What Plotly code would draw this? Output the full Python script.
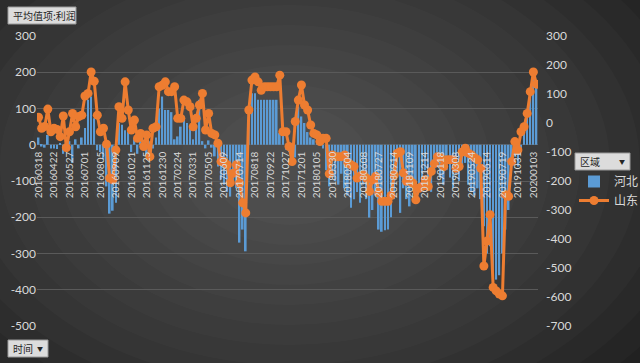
import plotly.graph_objects as go

# ---------------- data ----------------
tick_labels = ["20160318", "20160422", "20160527", "20160701", "20160805", "20160909",
               "20161021", "20161125", "20161230", "20170224", "20170331", "20170505",
               "20170609", "20170714", "20170818", "20170922", "20171027", "20171201",
               "20180105", "20180330", "20180504", "20180608", "20180727", "20180914",
               "20181109", "20181214", "20190118", "20190308", "20190524", "20190614",
               "20190719", "20191031", "20200103"]

hebei = [20, -5, -8, 27, -10, -10, -12, 5, -25, 8,
         10, -50, 15, -10, 20, 46, 124, 133, 73, -15,
         -20, -40, -115, -190, -182, -160, 60, 55, 40, 35,
         -20, 15, -25, 20, -15, -30, 10, -10, 20, 100,
         133, 96, 96, 90, 15, 23, 50, 78, 60, 50,
         15, 55, 124, 10, -10, 12, -8, -32, -60, -96,
         -110, -130, -143, -100, -120, -270, -234, -294, 60, 142,
         142, 124, 124, 124, 124, 124, 124, 124, 32, 30,
         -14, -20, -30, -35, 105, 78, 60, 35, 20, 15,
         22, 18, -10, -70, -115, -90, -100, -110, -80, -120,
         -140, -174, -150, -130, -160, -110, -150, -201, -180, -140,
         -234, -240, -236, -234, -200, -150, -90, -188, -120, -150,
         -170, -100, -160, -120, -90, -70, -110, -130, -80, -60,
         -90, -110, -70, -90, -120, -80, -100, -60, -50, -110,
         -130, -140, -120, -150, -225, -300, -280, -353, -372, -360,
         -300, -234, -180, -40, -33, -60, -20, 50, 90, 146,
         190, 157]

shandong = [20, -18, -12, 48, -30, -18, -22, -47, 24, -85,
            -30, 33, -13, 22, 27, 93, 102, 176, 144, 27,
            -30, -18, -73, -190, -196, -93, 56, 16, 142, 45,
            -24, 10, -53, -36, -81, -41, -116, -18, -13, 125,
            130, 142, 108, 108, 125, 16, 16, 79, 73, 56,
            -13, 16, 62, 102, -24, 33, -36, -41, -70, -133,
            -133, -144, -206, -173, -144, -207, -275, -310, 45, 148,
            159, 142, 113, 125, 125, 125, 125, 125, 165, -30,
            -30, -81, -133, 5, 79, 131, 62, 45, -7, -36,
            -41, -64, -53, -53, -175, -110, -116, -116, -116, -110,
            -138, -144, -150, -190, -183, -179, -190, -236, -196, -184,
            -241, -270, -270, -270, -250, -179, -104, -99, -172, -201,
            -196, -207, -265, -225, -219, -196, -219, -167, -140, -116,
            -120, -150, -127, -127, -127, -156, -150, -100, -87, -104,
            -110, -120, -127, -156, -493, -407, -316, -567, -579, -590,
            -596, -247, -253, -133, -64, -93, -30, -13, 33, 108,
            176, 134]

left_ticks = [300, 200, 100, 0, -100, -200, -300, -400, -500]
right_ticks = [300, 200, 100, 0, -100, -200, -300, -400, -500, -600, -700]

# ---------------- layout helpers ----------------
W, H = 640, 363
ML, MR, MT, MB = 37, 102, 36, 37
PW, PH = W - ML - MR, H - MT - MB


def fx(px):
    return (px - ML) / PW


def fy(py):
    return (H - MB - py) / PH


n = len(hebei)
idx = list(range(n))

fig = go.Figure()
fig.add_trace(go.Bar(
    x=idx, y=hebei, name="河北", yaxis="y",
    marker=dict(color="#5b9bd5", line=dict(width=0)),
))
fig.add_trace(go.Scatter(
    x=idx, y=shandong, name="山东", yaxis="y2", mode="lines+markers",
    line=dict(color="#ed7d31", width=3),
    marker=dict(size=9, color="#ed7d31"),
))

FONT = "Lato, 'Noto Sans CJK SC', sans-serif"
TXT = "#d9d9d9"

# radial-like background glow
shapes = []
cx, cy = 290, 165
steps = 14
for k in range(steps):
    rx = 470 - k * 30
    ry = 320 - k * 20
    shapes.append(dict(
        type="circle", xref="paper", yref="paper", layer="below",
        x0=fx(cx - rx), x1=fx(cx + rx), y0=fy(cy + ry), y1=fy(cy - ry),
        fillcolor="rgba(255,255,255,0.018)", line=dict(width=0),
    ))

annotations = []


def button(x0, y0, x1, y1, text, arrow):
    shapes.append(dict(
        type="rect", xref="paper", yref="paper", layer="above",
        x0=fx(x0), x1=fx(x1), y0=fy(y1), y1=fy(y0),
        fillcolor="#dcdcdc", line=dict(color="#9a9a9a", width=1),
    ))
    annotations.append(dict(
        xref="paper", yref="paper", x=fx(x0 + 3), y=fy((y0 + y1) / 2),
        xanchor="left", yanchor="middle", text=text, showarrow=False,
        font=dict(family="'Noto Sans CJK SC', sans-serif", size=10, color="#262626"),
    ))
    if arrow:
        annotations.append(dict(
            xref="paper", yref="paper", x=fx(x1 - 8), y=fy((y0 + y1) / 2),
            xanchor="center", yanchor="middle", text="▼", showarrow=False,
            font=dict(size=6, color="#262626"),
        ))


button(8, 7, 76, 24, "平均值项:利润", False)
button(8, 340, 48, 357, "时间", True)
button(575, 153, 630, 170, "区域", True)

fig.update_layout(
    width=W, height=H,
    margin=dict(l=ML, r=MR, t=MT, b=MB, pad=0, autoexpand=False),
    paper_bgcolor="#1d1d1d",
    plot_bgcolor="rgba(0,0,0,0)",
    font=dict(family=FONT, color=TXT, size=12),
    bargap=0.45,
    showlegend=True,
    legend=dict(
        x=fx(574), y=fy(167), xanchor="left", yanchor="top",
        bgcolor="rgba(0,0,0,0)", font=dict(size=12, color=TXT, family=FONT),
        itemwidth=30, tracegroupgap=0,
    ),
    xaxis=dict(
        range=[-0.5, n - 0.5], tickvals=idx[::5], ticktext=tick_labels,
        tickangle=-90, anchor="free", position=500 / 800,
        showgrid=False, zeroline=False, showline=False, ticks="",
        ticklabelstandoff=4,
        tickfont=dict(size=10, color=TXT, family=FONT), automargin=False,
    ),
    yaxis=dict(
        range=[-500, 300], tickvals=left_ticks, ticktext=[str(v) for v in left_ticks],
        showgrid=True, gridcolor="#5a5a5a", gridwidth=1, zeroline=False,
        showline=False, ticks="", tickfont=dict(size=12, color=TXT, family=FONT),
        automargin=False,
    ),
    yaxis2=dict(
        range=[-700, 300], tickvals=right_ticks, ticktext=[str(v) for v in right_ticks],
        overlaying="y", side="right", anchor="x",
        showgrid=False, zeroline=False, showline=False, ticks="",
        ticklabelstandoff=7,
        tickfont=dict(size=12, color=TXT, family=FONT), automargin=False,
    ),
    shapes=shapes,
    annotations=annotations,
)

fig.write_html(
    "out.html",
    config={"displayModeBar": False},
    post_script="document.body.style.margin='0';document.body.style.background='#1d1d1d';",
)
